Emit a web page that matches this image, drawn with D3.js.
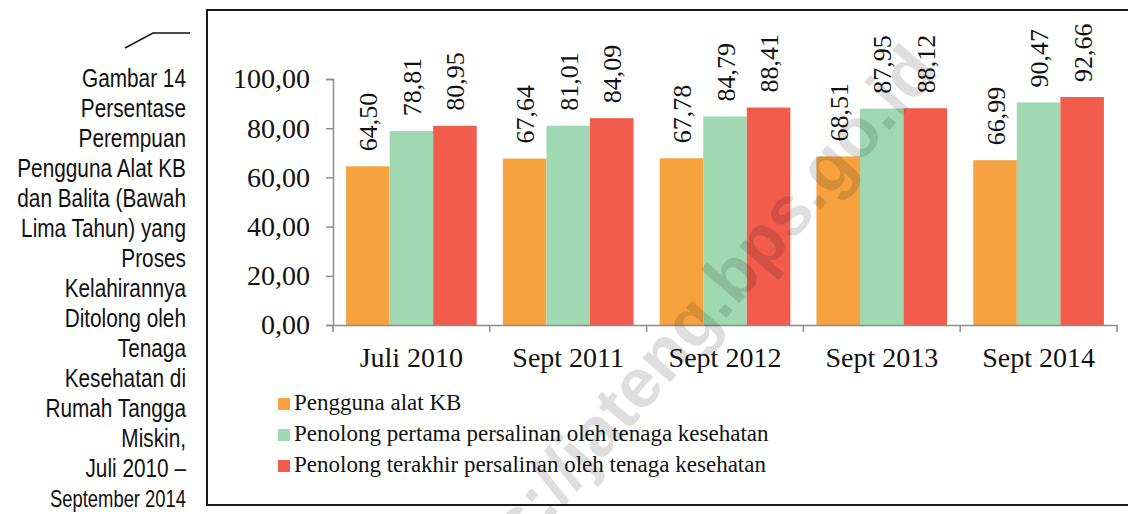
<!DOCTYPE html>
<html>
<head>
<meta charset="utf-8">
<script src="https://cdn.jsdelivr.net/npm/d3@7"></script>
<style>
  body { margin: 0; background: #fff; }
  svg { display: block; }
</style>
</head>
<body>
<script>
var width = 1128;
var height = 514;

// data
var categories = ["Juli 2010", "Sept 2011", "Sept 2012", "Sept 2013", "Sept 2014"];
var seriesNames = ["Pengguna alat KB",
  "Penolong pertama persalinan oleh tenaga kesehatan",
  "Penolong terakhir persalinan oleh tenaga kesehatan"];
var penggunaKB = [64.50, 67.64, 67.78, 68.51, 66.99];
var penolongPertama = [78.81, 81.01, 84.79, 87.95, 90.47];
var penolongTerakhir = [80.95, 84.09, 88.41, 88.12, 92.66];
var yTicks = [0, 20, 40, 60, 80, 100];
var captionLines = ["Gambar 14", "Persentase", "Perempuan", "Pengguna Alat KB",
  "dan Balita (Bawah", "Lima Tahun) yang", "Proses", "Kelahirannya",
  "Ditolong oleh", "Tenaga", "Kesehatan di", "Rumah Tangga", "Miskin,",
  "Juli 2010 \u2013", "September 2014"];

var colors = ["#F6A23F", "#A0D9B1", "#F25C4D"];
var seriesValues = [penggunaKB, penolongPertama, penolongTerakhir];

var serif = "'Liberation Serif', 'Times New Roman', serif";
var sans = "'Liberation Sans', Arial, sans-serif";

var svg = d3.select("body")
  .append("svg")
  .attr("width", width)
  .attr("height", height);

// caption on the left (narrow look by squeezing a normal sans)
svg.append("path")
  .attr("d", "M125,48 L153,33 L190,33")
  .attr("fill", "none")
  .attr("stroke", "#111")
  .attr("stroke-width", 1.5);

svg.append("g")
  .attr("transform", "translate(186,0) scale(0.8,1)")
  .selectAll("text")
  .data(captionLines)
  .enter()
  .append("text")
    .attr("x", 0)
    .attr("y", function(d, i) { return 87 + i * 30; })
    .attr("text-anchor", "end")
    .attr("font-family", sans)
    .attr("font-size", function(d, i) { return i == captionLines.length - 1 ? 23 : 26; })
    .attr("fill", "#111")
    .text(function(d) { return d; });

// frame
svg.append("rect")
  .attr("x", 207)
  .attr("y", 10)
  .attr("width", 1000)
  .attr("height", 495)
  .attr("fill", "none")
  .attr("stroke", "#1a1a1a")
  .attr("stroke-width", 2);

// scales
var xScale = d3.scaleBand()
  .domain(categories)
  .range([333, 1117]);

var innerScale = d3.scaleBand()
  .domain(d3.range(seriesNames.length))
  .range([0, xScale.bandwidth()])
  .paddingInner(0)
  .paddingOuter(0.3);

var yScale = d3.scaleLinear()
  .domain([0, 100])
  .range([325, 79]);

// bars
var groups = svg.selectAll(".grp")
  .data(categories)
  .enter()
  .append("g")
    .attr("class", "grp")
    .attr("transform", function(d) { return "translate(" + xScale(d) + ",0)"; });

groups.each(function(cat, ci) {
  var g = d3.select(this);
  var rows = seriesValues.map(function(vals, si) { return {s: si, v: vals[ci]}; });

  g.selectAll("rect")
    .data(rows)
    .enter()
    .append("rect")
      .attr("x", function(d) { return innerScale(d.s); })
      .attr("y", function(d) { return yScale(d.v); })
      .attr("width", innerScale.bandwidth())
      .attr("height", function(d) { return yScale(0) - yScale(d.v); })
      .attr("fill", function(d) { return colors[d.s]; });

  g.selectAll("text")
    .data(rows)
    .enter()
    .append("text")
      .attr("transform", function(d) {
        return "translate(" + (innerScale(d.s) + innerScale.bandwidth() / 2 + 1) + "," +
          (yScale(d.v) - 15) + ") rotate(-90)";
      })
      .attr("dominant-baseline", "central")
      .attr("font-family", serif)
      .attr("font-size", 26)
      .attr("fill", "#111")
      .text(function(d) { return d.v.toFixed(2).replace(".", ","); });
});

// y axis
var yAxis = svg.append("g")
  .attr("transform", "translate(333,0)")
  .call(d3.axisLeft(yScale)
    .tickValues(yTicks)
    .tickSize(7)
    .tickPadding(16)
    .tickFormat(function(d) { return d.toFixed(2).replace(".", ","); }));

yAxis.select(".domain").attr("stroke", "#8c8c8c").attr("stroke-width", 1.5);
yAxis.selectAll(".tick line").attr("stroke", "#8c8c8c").attr("stroke-width", 1.5);
yAxis.selectAll(".tick text")
  .attr("font-family", serif)
  .attr("font-size", 28)
  .attr("fill", "#111");

// x axis
var xAxis = svg.append("g")
  .attr("transform", "translate(0," + yScale(0) + ")")
  .call(d3.axisBottom(xScale).tickSize(0).tickPadding(22));

xAxis.select(".domain").attr("stroke", "#8c8c8c").attr("stroke-width", 1.5);
xAxis.selectAll(".tick text")
  .attr("font-family", serif)
  .attr("font-size", 28)
  .attr("fill", "#111");

// category boundary ticks
var bounds = categories.map(function(c) { return xScale(c); })
  .concat([xScale(categories[categories.length - 1]) + xScale.bandwidth()]);
xAxis.selectAll(".btick")
  .data(bounds)
  .enter()
  .append("line")
    .attr("x1", function(d) { return d; })
    .attr("x2", function(d) { return d; })
    .attr("y1", 0)
    .attr("y2", 7)
    .attr("stroke", "#8c8c8c")
    .attr("stroke-width", 1.5);

// legend
var legend = svg.selectAll(".leg")
  .data(seriesNames)
  .enter()
  .append("g")
    .attr("class", "leg")
    .attr("transform", function(d, i) { return "translate(278," + (410 + i * 31) + ")"; });

legend.append("rect")
  .attr("x", 0)
  .attr("y", -12)
  .attr("width", 12)
  .attr("height", 12)
  .attr("fill", function(d, i) { return colors[i]; });

legend.append("text")
  .attr("x", 16)
  .attr("y", 0)
  .attr("font-family", serif)
  .attr("font-size", 23)
  .attr("fill", "#111")
  .text(function(d) { return d; });

// watermark
svg.append("text")
  .attr("transform", "translate(940,72) rotate(-49)")
  .attr("text-anchor", "end")
  .attr("font-family", sans)
  .attr("font-weight", "bold")
  .attr("font-size", 70)
  .attr("fill", "#000")
  .attr("fill-opacity", 0.13)
  .text("https://jateng.bps.go.id");
</script>
</body>
</html>
